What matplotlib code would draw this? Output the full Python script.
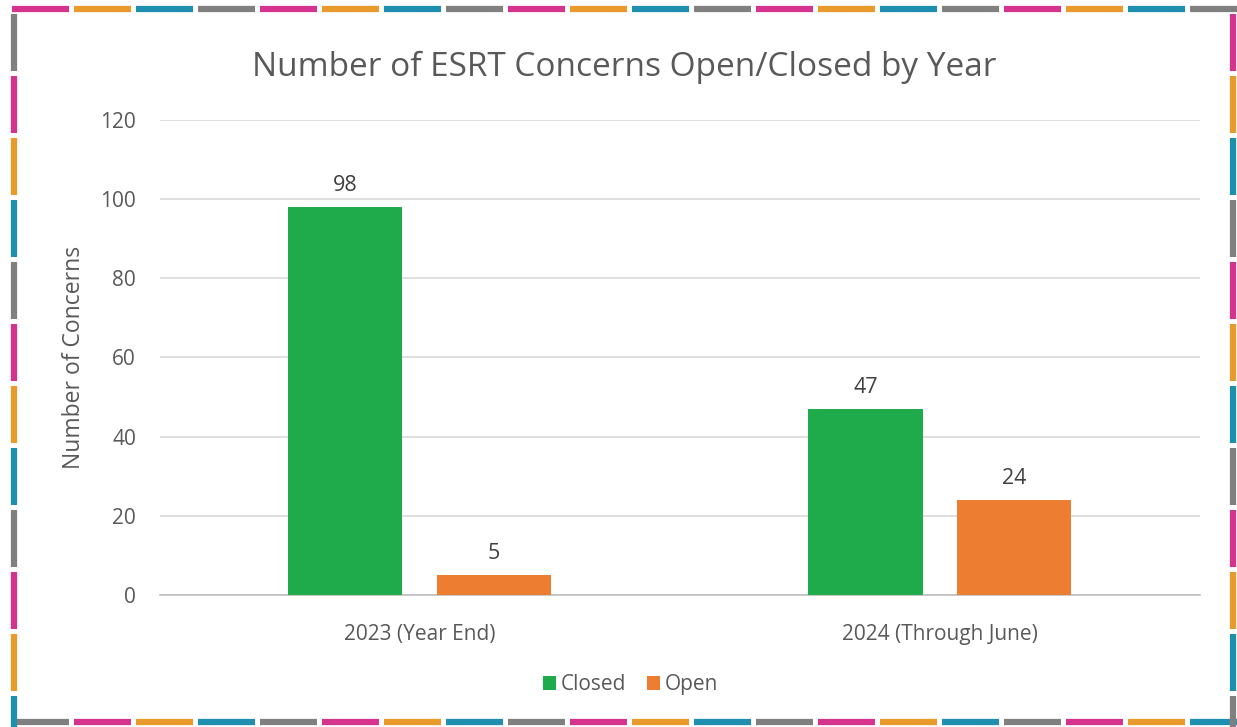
import numpy as np
import matplotlib.pyplot as plt
from matplotlib.lines import Line2D

categories = ['2023 (Year End)', '2024 (Through June)']
closed = [98, 47]
open_ = [5, 24]

green = '#1faa4b'
orange = '#ed7d31'
text_grey = '#595959'

plt.rcParams['font.family'] = ['Open Sans', 'DejaVu Sans']

fig = plt.figure(figsize=(12.37, 7.27), dpi=100)
ax = fig.add_axes([0.129, 0.1816, 0.841, 0.6534])

x = np.arange(len(categories))
w = 0.22
b1 = ax.bar(x - 0.143, closed, w, color=green, label='Closed', zorder=3)
b2 = ax.bar(x + 0.143, open_, w, color=orange, label='Open', zorder=3)

for bars in (b1, b2):
    for r in bars:
        ax.annotate(str(int(r.get_height())), (r.get_x() + r.get_width() / 2, r.get_height()),
                    xytext=(0, 8), textcoords='offset points', ha='center', va='bottom',
                    fontsize=15.5, color='#404040')

ax.set_xlim(-0.5, 1.5)
ax.set_ylim(0, 120)
ax.set_yticks(range(0, 121, 20))
ax.set_xticks(x)
ax.set_xticklabels(categories)
ax.tick_params(axis='both', length=0, labelsize=15, labelcolor=text_grey)
ax.tick_params(axis='y', pad=17)
ax.tick_params(axis='x', pad=21)
ax.grid(axis='y', color='#d9d9d9', linewidth=1.2, zorder=0)
for s in ['left', 'right', 'top']:
    ax.spines[s].set_visible(False)
ax.spines['bottom'].set_color('#bfbfbf')
ax.spines['bottom'].set_linewidth(1.2)
ax.set_ylabel('Number of Concerns', fontsize=16.5, color=text_grey, labelpad=10)

fig.text(0.505, 0.907, 'Number of ESRT Concerns Open/Closed by Year', ha='center', va='center',
         fontsize=24, color='#595959')

fig.legend(handles=[b1, b2], labels=['Closed', 'Open'], loc='center', bbox_to_anchor=(0.51, 0.058),
           ncol=2, frameon=False, fontsize=15, handlelength=0.6, handleheight=0.6,
           handletextpad=0.25, columnspacing=1.0, labelcolor=text_grey)

# decorative dashed multicolour border
border_colors = ['#d6338f', '#e99a2c', '#1f8fb0', '#808080']
W, H = 1237, 727
seg, gap = 57, 5

def edge(x0, y0, x1, y1, start):
    length = np.hypot(x1 - x0, y1 - y0)
    pos = 0
    i = start
    while pos < length:
        a = pos / length
        b = min(pos + seg, length) / length
        fig.add_artist(Line2D([(x0 + (x1 - x0) * a) / W, (x0 + (x1 - x0) * b) / W],
                              [1 - (y0 + (y1 - y0) * a) / H, 1 - (y0 + (y1 - y0) * b) / H],
                              color=border_colors[i % 4], linewidth=4.5,
                              solid_capstyle='butt', transform=fig.transFigure))
        pos += seg + gap
        i += 1

edge(12, 9, W, 9, 0)
edge(12, 722, W, 722, 3)
edge(14, 14, 14, H, 3)
edge(1233, 14, 1233, H, 0)

fig.savefig('out.png', dpi=100, facecolor='white')
